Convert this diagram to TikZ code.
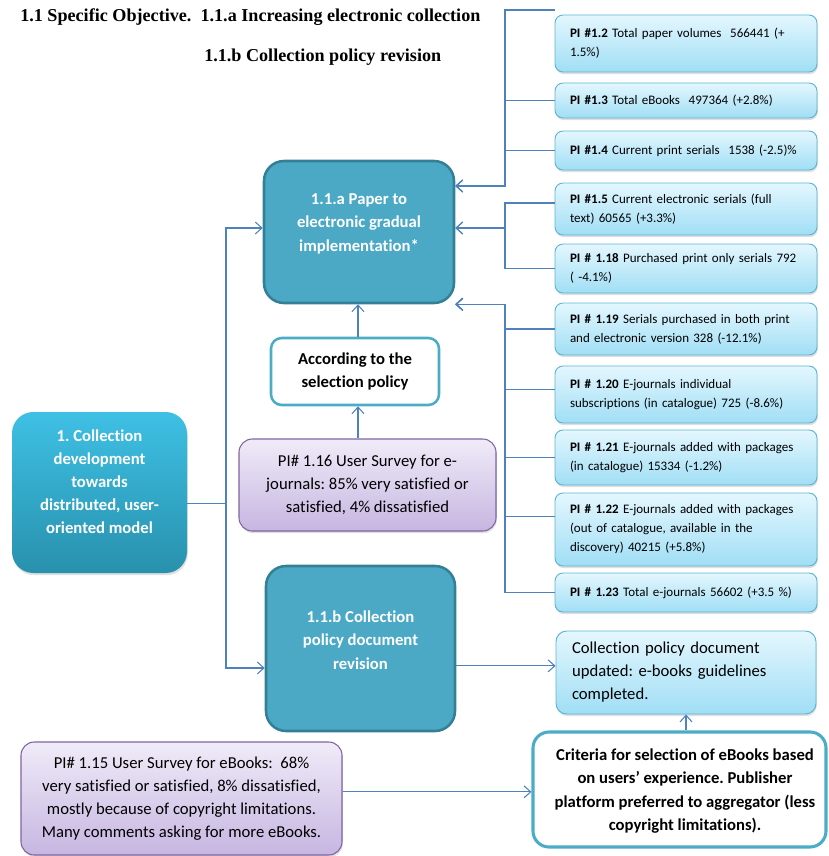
\documentclass[tikz,border=0pt]{standalone}
\usepackage{fontspec}
\setmainfont{Carlito}[Ligatures=NoCommon]
\newfontfamily\titlefont{Liberation Serif}
\usetikzlibrary{arrows.meta,shadows,calc}
\frenchspacing

\definecolor{conncol}{RGB}{79,129,189}
\definecolor{piTop}{RGB}{228,247,254}
\definecolor{piBot}{RGB}{160,222,245}
\definecolor{piBorder}{RGB}{90,180,210}
\definecolor{tealFill}{RGB}{75,169,197}
\definecolor{tealDark}{RGB}{51,127,150}
\definecolor{cyanTop}{RGB}{62,192,228}
\definecolor{cyanBot}{RGB}{40,145,173}
\definecolor{tealLine}{RGB}{75,172,198}
\definecolor{lavTop}{RGB}{240,235,248}
\definecolor{lavBot}{RGB}{198,182,225}
\definecolor{lavBorder}{RGB}{128,100,162}

\begin{document}
\begin{tikzpicture}[x=0.75pt,y=-0.75pt,
  conn/.style={draw=conncol, line width=0.8pt, -{Straight Barb[length=5pt,width=9pt]}},
  softshadow/.style={drop shadow={opacity=0.25, shadow xshift=0.6pt, shadow yshift=-1.6pt}},
  pibox/.style={rounded corners=6pt, draw=piBorder, line width=0.7pt, top color=piTop, bottom color=piBot,
    softshadow, text width=180pt, inner xsep=8.25pt, align=left,
    font=\fontsize{9.75}{14.25}\selectfont},
  tealbox/.style={rounded corners=15pt, fill=tealFill, draw=tealDark, line width=1.9pt},
  cyanbox/.style={rounded corners=16pt, top color=cyanTop, bottom color=cyanBot, draw=none, softshadow},
  whitebox/.style={rounded corners=8pt, fill=white, draw=tealLine, line width=1.9pt, align=center,
    font=\fontsize{12.5}{17.6}\selectfont\bfseries},
  lavbox/.style={rounded corners=10pt, top color=lavTop, bottom color=lavBot, draw=lavBorder, line width=0.8pt,
    softshadow, align=center, font=\fontsize{12.5}{17.25}\selectfont},
  docbox/.style={rounded corners=8pt, draw=piBorder, line width=0.7pt, top color=piTop, bottom color=piBot,
    softshadow, text width=171pt, inner xsep=12pt, align=left, font=\fontsize{12.5}{17.25}\selectfont},
  wtext/.style={text=white, align=center, font=\fontsize{12.5}{17.6}\selectfont\bfseries},
  titlestyle/.style={inner sep=0pt, anchor=west, font=\titlefont\bfseries\fontsize{13.6}{16}\selectfont}
]
\useasboundingbox (0,0) rectangle (828,856);

% titles
\node[titlestyle] (t1) at (20,17) {1.1 Specific Objective.\ \ 1.1.a Increasing electronic collection};
\node[titlestyle] (t2) at (204,57) {1.1.b Collection policy revision};

% PI boxes on the right (text starts 15px from the left edge)
\begin{scope}[every node/.append style={}]
\node[pibox, minimum height={57*0.75pt}] (pi12) at (686,43.5) {\hspace*{3pt}\textbf{PI \#1.2} Total paper volumes\ \ 566441 (+\\\hspace*{3pt}1.5\%)};
\node[pibox, minimum height={35*0.75pt}] (pi13) at (686,100.5) {\hspace*{3pt}\textbf{PI \#1.3} Total eBooks\ \ 497364 (+2.8\%)};
\node[pibox, minimum height={39*0.75pt}] (pi14) at (686,150.5) {\hspace*{3pt}\textbf{PI \#1.4} Current print serials\ \ 1538 (-2.5)\%};
\node[pibox, minimum height={52*0.75pt}] (pi15) at (686,209) {\hspace*{3pt}\textbf{PI \#1.5} Current electronic serials (full\\\hspace*{3pt}text) 60565 (+3.3\%)};
\node[pibox, minimum height={49*0.75pt}] (pi118) at (686,268.5) {\hspace*{3pt}\textbf{PI \# 1.18} Purchased print only serials 792\\\hspace*{3pt}( -4.1\%)};
\node[pibox, minimum height={52*0.75pt}] (pi119) at (686,329) {\hspace*{3pt}\textbf{PI \# 1.19} Serials purchased in both print\\\hspace*{3pt}and electronic version 328 (-12.1\%)};
\node[pibox, minimum height={57*0.75pt}] (pi120) at (686,394.5) {\hspace*{3pt}\textbf{PI \# 1.20} E-journals individual\\\hspace*{3pt}subscriptions (in catalogue) 725 (-8.6\%)};
\node[pibox, minimum height={55*0.75pt}] (pi121) at (686,457.5) {\hspace*{3pt}\textbf{PI \# 1.21} E-journals added with packages\\\hspace*{3pt}(in catalogue) 15334 (-1.2\%)};
\node[pibox, minimum height={73*0.75pt}] (pi122) at (686,529.5) {\hspace*{3pt}\textbf{PI \# 1.22} E-journals added with packages\\\hspace*{3pt}(out of catalogue, available in the\\\hspace*{3pt}discovery) 40215 (+5.8\%)};
\node[pibox, minimum height={39*0.75pt}] (pi123) at (686,592.5) {\hspace*{3pt}\textbf{PI \# 1.23} Total e-journals 56602 (+3.5 \%)};
\end{scope}

% main boxes
\node[tealbox, minimum width={190*0.75pt}, minimum height={142*0.75pt}] (A) at (359,232) {};
\node[wtext] (Atext) at (359,223.5) {1.1.a Paper to\\electronic gradual\\implementation*};

\node[whitebox, minimum width={168*0.75pt}, minimum height={67*0.75pt}] (Acc) at (355,371.5) {According to the\\selection policy};

\node[lavbox, minimum width={257*0.75pt}, minimum height={92*0.75pt}] (P116) at (367.5,485) {PI\# 1.16 User Survey for e-\\journals: 85\% very satisfied or\\satisfied, 4\% dissatisfied};

\node[cyanbox, minimum width={175*0.75pt}, minimum height={161*0.75pt}] (B1) at (99.5,492.5) {};
\node[wtext, font=\fontsize{12.5}{17.25}\selectfont\bfseries] (B1text) at (99.5,482) {1. Collection\\development\\towards\\distributed, user-\\oriented model};

\node[tealbox, minimum width={189*0.75pt}, minimum height={165*0.75pt}] (B) at (360.5,648.5) {};
\node[wtext] (Btext) at (360.5,640) {1.1.b Collection\\policy document\\revision};

\node[docbox, minimum height={83*0.75pt}] (Doc) at (686,672.5) {Collection policy document\\updated: e-books guidelines\\completed.};

\node[whitebox, line width=2.3pt, rounded corners=12pt, minimum width={293*0.75pt}, minimum height={115*0.75pt}] (Crit) at (679.5,789.5) {};
\node[align=center, font=\fontsize{12.5}{17.6}\selectfont\bfseries] (Crittext) at (685,791) {Criteria for selection of eBooks based\\on users’ experience. Publisher\\platform preferred to aggregator (less\\copyright limitations).};

\node[lavbox, minimum width={321*0.75pt}, minimum height={113*0.75pt}] (P115) at (181.5,798.5) {PI\# 1.15 User Survey for eBooks:\ \ 68\%\\very satisfied or satisfied, 8\% dissatisfied,\\mostly because of copyright limitations.\\Many comments asking for more eBooks.};

% helper coordinates
\coordinate (bus) at (505,0);
\coordinate (lbus) at (226,0);
\coordinate (pi12tip) at (555,10);
\coordinate (a1) at ([yshift=34.5pt]A.east);
\coordinate (a2) at ([yshift=3pt]A.east);
\coordinate (a3) at (A.south east);
\coordinate (pi15w) at ([yshift=4.5pt]pi15.west);
\coordinate (pi120w) at ([yshift=4pt]pi120.west);
\coordinate (pi122w) at ([yshift=10pt]pi122.west);

% right bus connectors
\draw[conn] (pi12tip) -- (bus |- pi12tip) |- (a1);
\draw[conn] (pi13.west) -- (bus |- pi13.west) |- (a1);
\draw[conn] (pi14.west) -- (bus |- pi14.west) |- (a1);
\draw[conn] (pi15w) -- (bus |- pi15w) |- (a2);
\draw[conn] (pi118.west) -- (bus |- pi118.west) |- (a2);
\draw[conn] (pi119.west) -- (bus |- pi119.west) |- (a3);
\draw[conn] (pi120w) -- (bus |- pi120w) |- (a3);
\draw[conn] (pi121.west) -- (bus |- pi121.west) |- (a3);
\draw[conn] (pi122w) -- (bus |- pi122w) |- (a3);
\draw[conn] (pi123.west) -- (bus |- pi123.west) |- (a3);

% left connectors
\coordinate (b1out) at ([yshift=-8pt]B1.east);
\draw[conn] (b1out) -- (lbus |- b1out) |- ([yshift=3pt]A.west);
\draw[conn] (b1out) -- (lbus |- b1out) |- ([yshift=-14.6pt]B.west);

% other connectors
\coordinate (bout) at ([yshift=-13pt]B.east);
\draw[conn] (bout) -- (bout -| Doc.west);
\coordinate (p115out) at ([yshift=5pt]P115.east);
\draw[conn] (p115out) -- (p115out -| Crit.west);
\draw[conn] (Doc.south |- Crit.north) -- (Doc.south);
\coordinate (accb) at ([xshift=2.25pt]Acc.south);
\draw[conn] (accb |- P116.north) -- (accb);
\coordinate (acct) at ([xshift=2.25pt]Acc.north);
\draw[conn] (acct) -- (acct |- A.south);
\end{tikzpicture}
\end{document}
